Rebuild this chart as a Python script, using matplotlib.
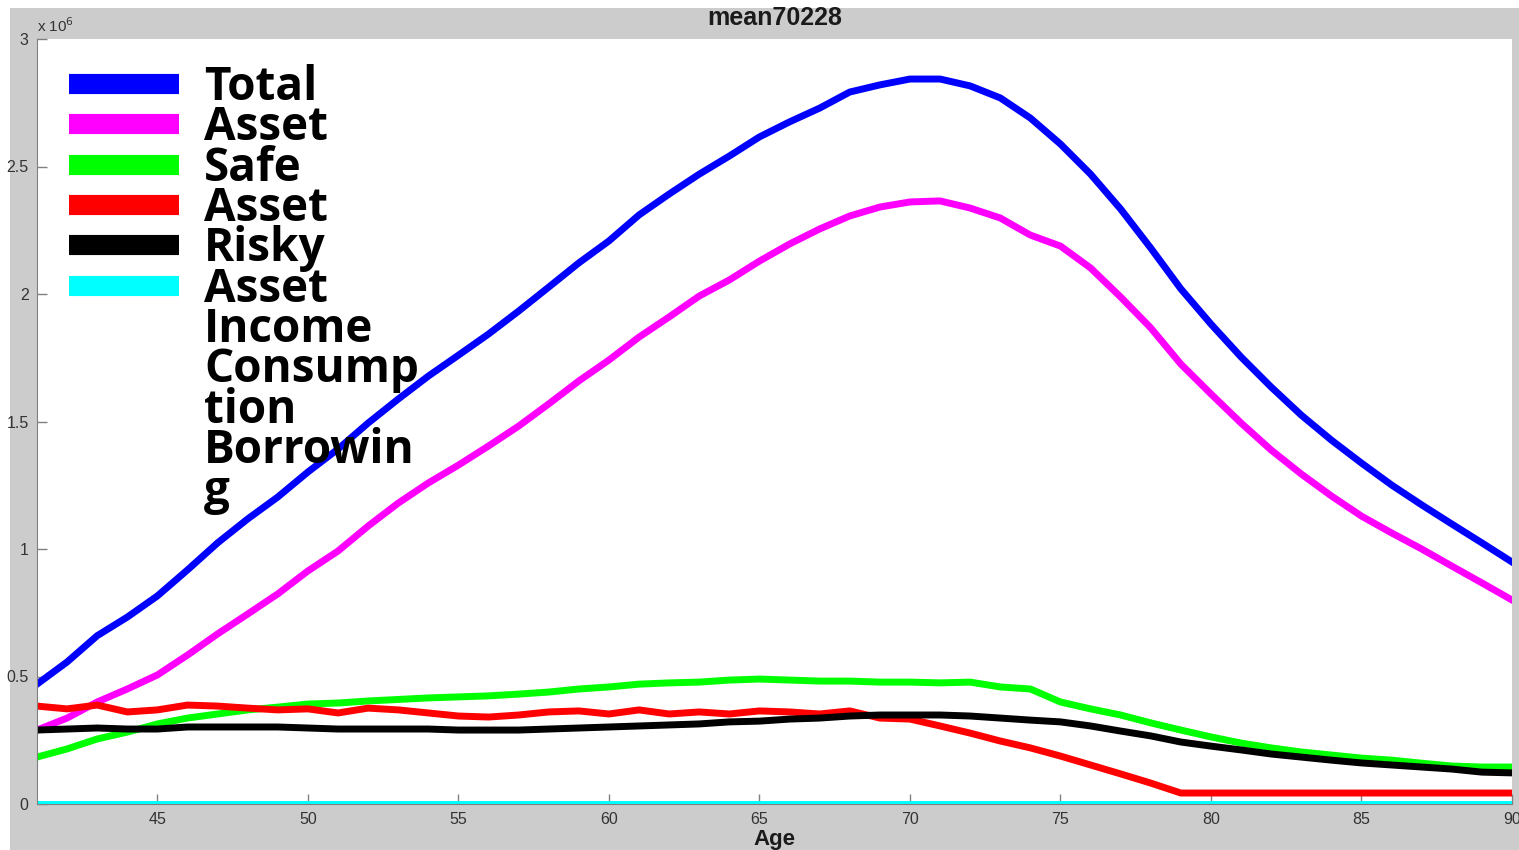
import numpy as np
import matplotlib
matplotlib.use("Agg")
import matplotlib.pyplot as plt
from matplotlib.lines import Line2D
from matplotlib.patches import Rectangle

# ages and series (values in millions)
age = np.arange(41, 91)

total_asset = [0.47, 0.557, 0.66, 0.733, 0.816, 0.918, 1.024, 1.118, 1.204, 1.302,
               1.392, 1.494, 1.588, 1.678, 1.76, 1.843, 1.933, 2.027, 2.122, 2.208,
               2.31, 2.392, 2.47, 2.541, 2.616, 2.675, 2.729, 2.792, 2.82, 2.843,
               2.843, 2.816, 2.769, 2.69, 2.588, 2.47, 2.333, 2.18, 2.02, 1.882,
               1.753, 1.635, 1.525, 1.427, 1.337, 1.251, 1.173, 1.098, 1.024, 0.949]

safe_asset = [0.29, 0.337, 0.4, 0.451, 0.506, 0.584, 0.667, 0.745, 0.824, 0.914,
              0.992, 1.09, 1.18, 1.259, 1.329, 1.404, 1.482, 1.569, 1.659, 1.741,
              1.831, 1.91, 1.992, 2.055, 2.129, 2.196, 2.255, 2.306, 2.341, 2.361,
              2.365, 2.337, 2.298, 2.231, 2.188, 2.102, 1.988, 1.867, 1.725, 1.608,
              1.494, 1.388, 1.294, 1.208, 1.129, 1.063, 1.0, 0.933, 0.867, 0.8]

risky_asset = [0.184, 0.216, 0.255, 0.282, 0.314, 0.337, 0.353, 0.369, 0.38, 0.392,
               0.396, 0.404, 0.41, 0.416, 0.42, 0.424, 0.431, 0.439, 0.451, 0.459,
               0.47, 0.475, 0.478, 0.486, 0.49, 0.486, 0.482, 0.482, 0.478, 0.478,
               0.475, 0.478, 0.459, 0.451, 0.4, 0.373, 0.349, 0.318, 0.29, 0.263,
               0.239, 0.22, 0.204, 0.192, 0.18, 0.172, 0.16, 0.149, 0.145, 0.145]

income = [0.384, 0.373, 0.388, 0.361, 0.369, 0.388, 0.384, 0.376, 0.369, 0.373,
          0.357, 0.376, 0.369, 0.357, 0.345, 0.341, 0.349, 0.361, 0.365, 0.353,
          0.369, 0.353, 0.361, 0.353, 0.365, 0.361, 0.353, 0.365, 0.337, 0.333,
          0.306, 0.278, 0.247, 0.22, 0.188, 0.153, 0.118, 0.082, 0.043, 0.043,
          0.043, 0.043, 0.043, 0.043, 0.043, 0.043, 0.043, 0.043, 0.043, 0.043]

consumption = [0.29, 0.294, 0.298, 0.294, 0.294, 0.302, 0.302, 0.302, 0.302, 0.298,
               0.294, 0.294, 0.294, 0.294, 0.29, 0.29, 0.29, 0.294, 0.298, 0.302,
               0.306, 0.31, 0.314, 0.322, 0.325, 0.333, 0.337, 0.345, 0.349, 0.349,
               0.349, 0.345, 0.337, 0.329, 0.322, 0.306, 0.286, 0.267, 0.243, 0.227,
               0.212, 0.196, 0.184, 0.172, 0.161, 0.153, 0.145, 0.137, 0.125, 0.122]

borrowing = [0.0] * len(age)

legend_lines = ["Total", "Asset", "Safe", "Asset", "Risky", "Asset",
                "Income", "Consump", "tion", "Borrowin", "g"]

fig = plt.figure(figsize=(15.19, 8.5), dpi=100, facecolor="white")
fig.patches.append(Rectangle((10 / 1519, 0), 1, 842 / 850, transform=fig.transFigure,
                             facecolor="#cccccc", edgecolor="none", zorder=-10))

ax = fig.add_axes([37 / 1519, 46 / 850, 1475 / 1519, 765 / 850])
ax.set_facecolor("white")

lw = 5
h1, = ax.plot(age, total_asset, color="#0000ff", lw=lw)
h2, = ax.plot(age, safe_asset, color="#ff00ff", lw=lw)
h3, = ax.plot(age, risky_asset, color="#00ff00", lw=lw)
h4, = ax.plot(age, income, color="#ff0000", lw=lw)
h5, = ax.plot(age, consumption, color="#000000", lw=lw)
h6, = ax.plot(age, borrowing, color="#00ffff", lw=lw)

ax.set_xlim(41, 90)
ax.set_ylim(0, 3)
ax.set_xticks([45, 50, 55, 60, 65, 70, 75, 80, 85, 90])
ax.set_yticks([0, 0.5, 1, 1.5, 2, 2.5, 3])
ax.set_yticklabels(["0", "0.5", "1", "1.5", "2", "2.5", "3"])
ax.tick_params(direction="in", length=7, width=1, color="#808080",
               labelsize=11.5, labelcolor="#333333", pad=6)
for lab in ax.get_xticklabels() + ax.get_yticklabels():
    lab.set_family("Liberation Sans")
for s in ["top", "right"]:
    ax.spines[s].set_visible(False)
for s in ["left", "bottom"]:
    ax.spines[s].set_color("#808080")

ax.set_title("mean70228", fontsize=18, fontweight="bold", family="Liberation Sans",
             color="#1a1a1a", pad=10)
ax.set_xlabel("Age", fontsize=16, fontweight="bold", family="Liberation Sans",
              color="#1a1a1a", labelpad=1)
ax.text(0, 1.005, "x 10$^{6}$", transform=ax.transAxes, fontsize=11,
        family="Liberation Sans", color="#333333", ha="left", va="bottom")

blank = [Line2D([], [], color="none") for _ in range(5)]
leg = ax.legend([h1, h2, h3, h4, h5, h6] + blank, legend_lines,
                loc="upper left", bbox_to_anchor=(32 / 1475, 1 - 25 / 765),
                frameon=False, borderpad=0, borderaxespad=0,
                handlelength=2.4, handletextpad=0.55, labelspacing=-0.145,
                prop={"family": "Open Sans", "weight": "bold", "size": 33})
for ln in leg.get_lines():
    ln.set_linewidth(14.5)
    ln.set_solid_capstyle("butt")

fig.savefig("out.png", dpi=100, facecolor=fig.get_facecolor())
